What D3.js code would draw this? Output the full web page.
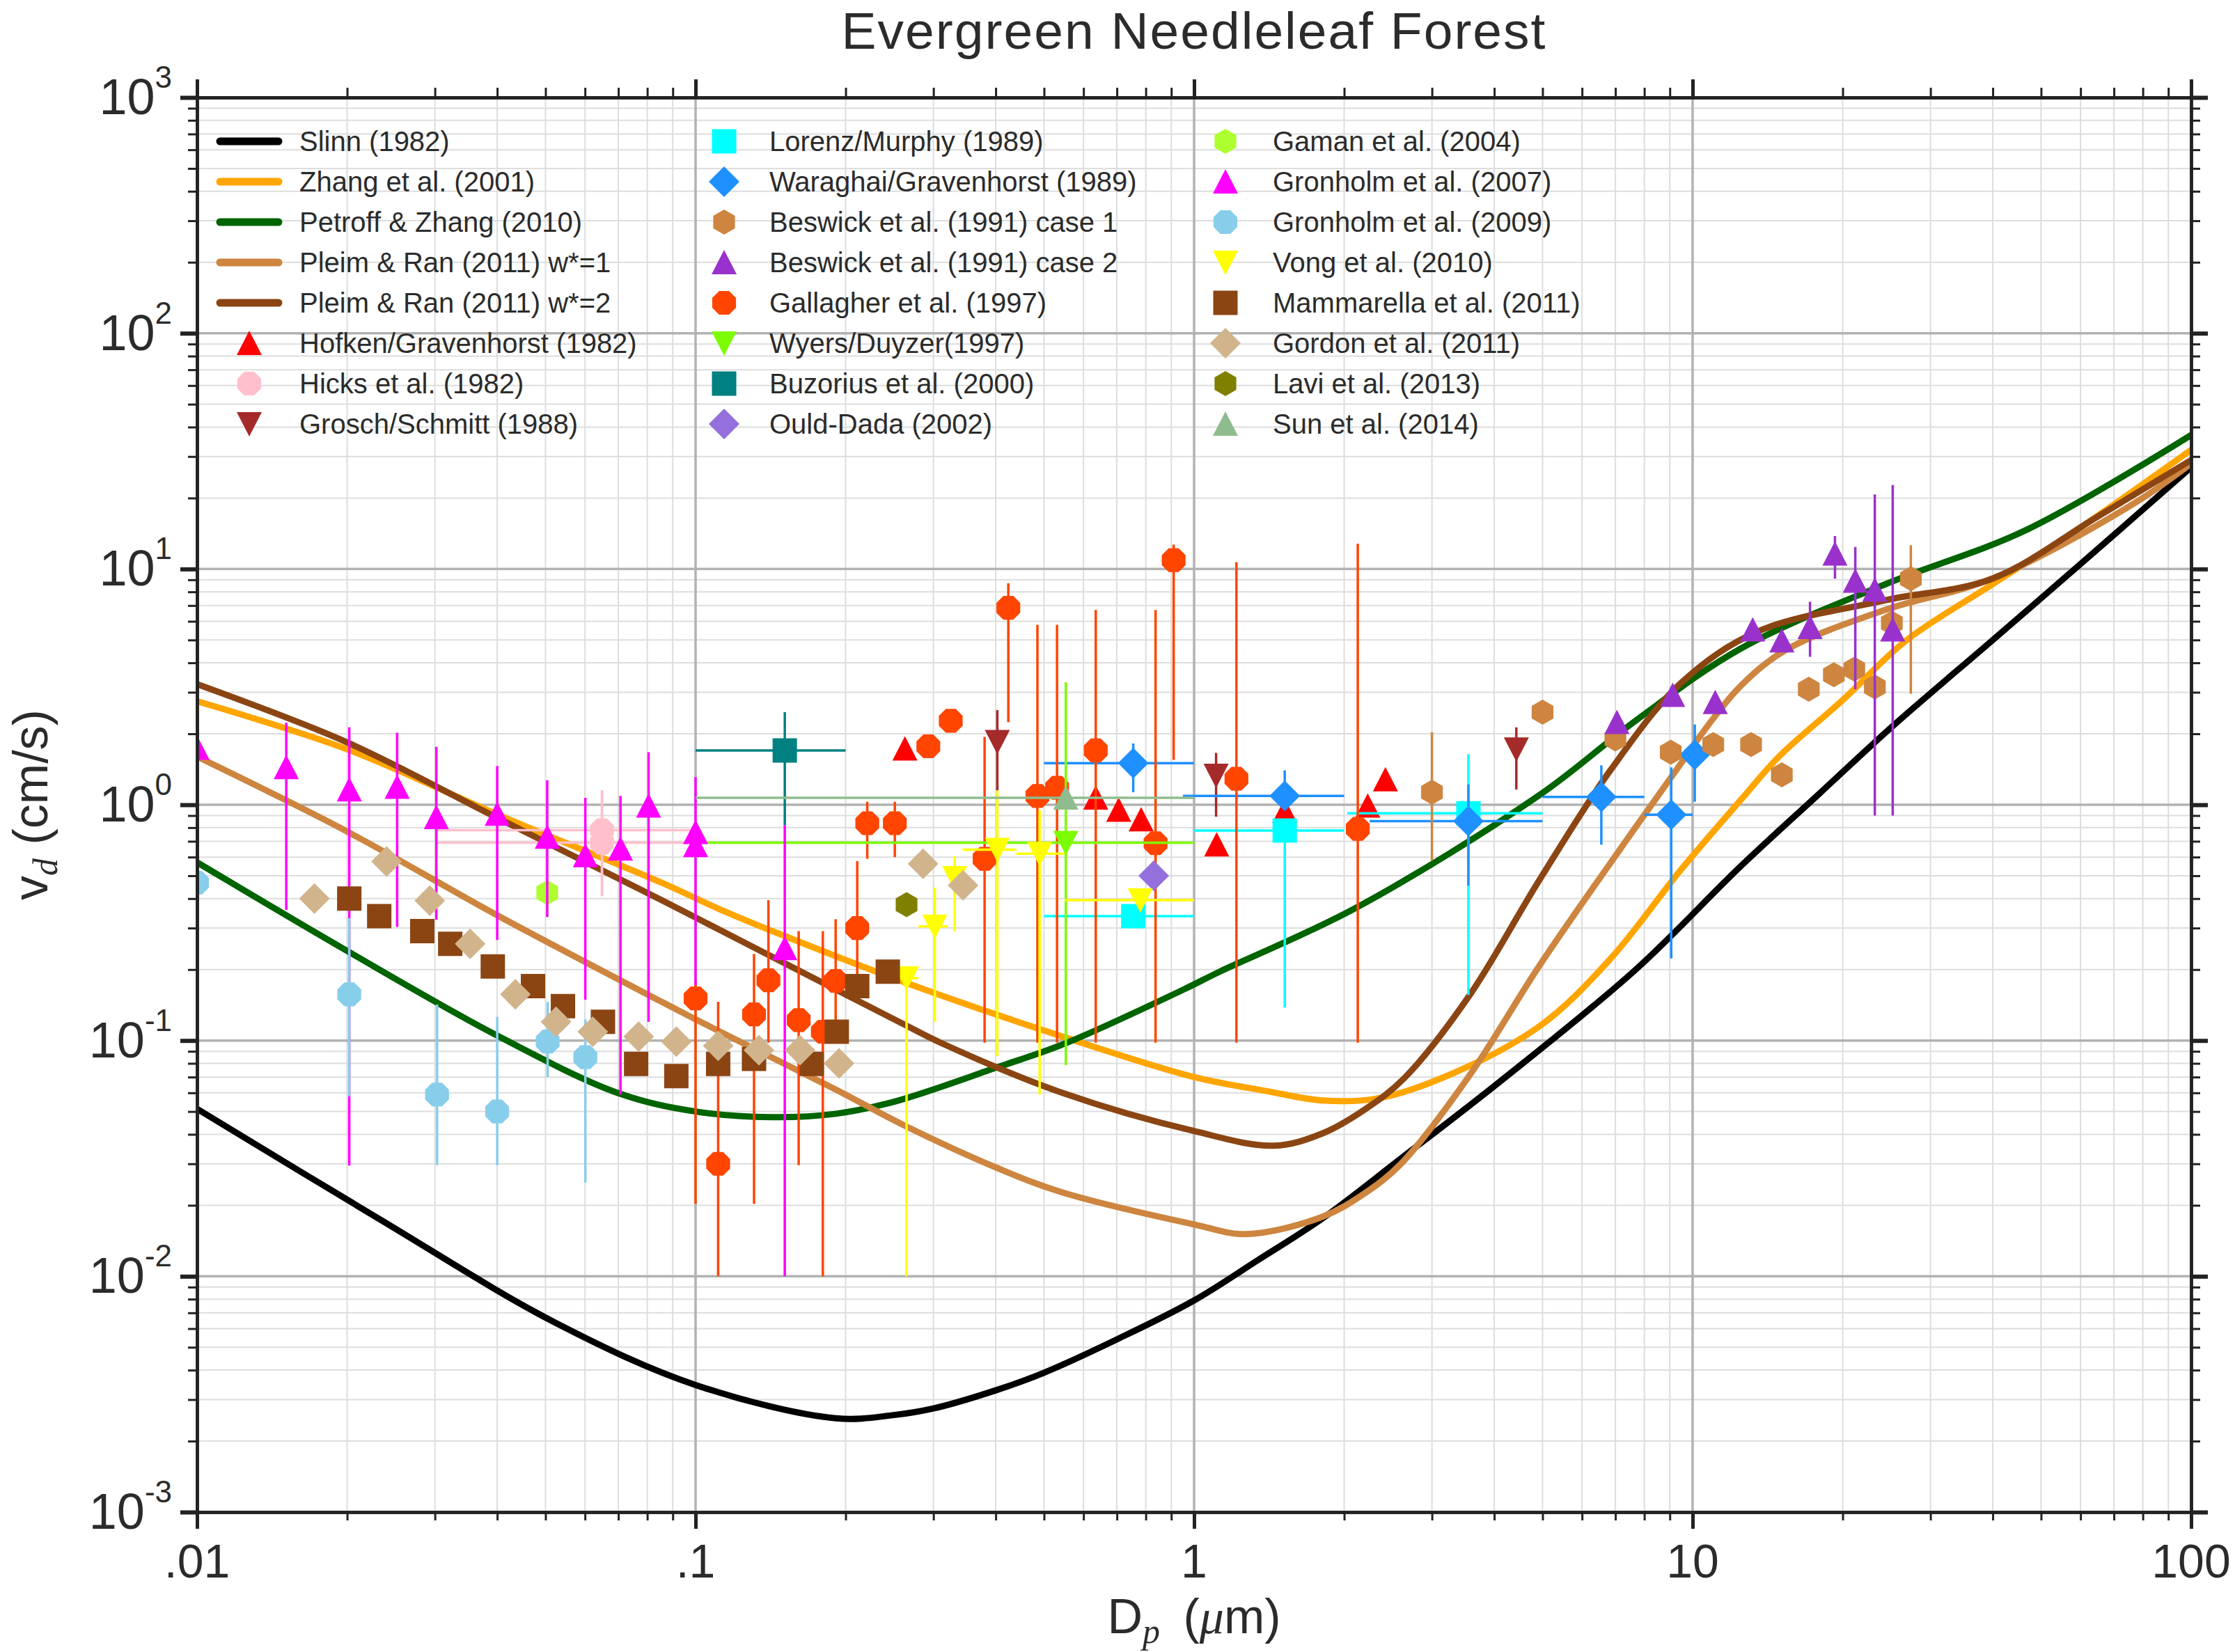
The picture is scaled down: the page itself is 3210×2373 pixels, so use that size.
<!DOCTYPE html>
<html>
<head>
<meta charset="utf-8">
<title>Evergreen Needleleaf Forest</title>
<script src="https://d3js.org/d3.v7.min.js"></script>
<style>
  body { margin: 0; background: #fff; }
  svg { display: block; font-family: "Liberation Sans", Arial, Helvetica, sans-serif; }
  .minor { stroke: #dddddd; stroke-width: 2; }
  .major { stroke: #b2b2b2; stroke-width: 3.5; }
  .lbl { fill: #2b2b2b; }
</style>
</head>
<body>
<svg id="chart" width="3210" height="2373"></svg>
<script>
// ---------- tick labels ----------
const xTickValues = [0.01, 0.1, 1, 10, 100];
const xTickLabels = [".01", ".1", "1", "10", "100"];
const yTickValues = [1e-3, 1e-2, 1e-1, 1, 10, 100, 1000];
const yTickExponents = ["-3", "-2", "-1", "0", "1", "2", "3"];

// ---------- model curves [Dp (um), vd (cm/s)] ----------
const slinn = [[0.01,0.0513],[0.023,0.0177],[0.052,0.0064],[0.1,0.00346],[0.191,0.0025],[0.25,0.00258],
  [0.3,0.00275],[0.403,0.0033],[0.5,0.0039],[0.7,0.0054],[1,0.0079],[1.35,0.0118],[1.81,0.0176],[2.6,0.0316],
  [4.17,0.0687],[7.71,0.201],[12.5,0.55],[18,1.12],[25.1,2.14],[40,5.0],[60,10.5],[100,27]];
const zhang = [[0.01,2.75],[0.02,1.72],[0.04,0.91],[0.0855,0.467],[0.112,0.36],[0.15,0.279],[0.262,0.177],
  [0.544,0.104],[1,0.07],[1.4,0.061],[1.81,0.0557],[2.31,0.0566],[3.16,0.0697],[4.93,0.115],[6.84,0.222],
  [9.46,0.528],[12.5,1.05],[14.9,1.6],[20,2.78],[26.8,4.97],[39.9,8.6],[60,15],[100,32]];
const petroff = [[0.01,0.57],[0.02,0.24],[0.04,0.105],[0.07,0.0598],[0.1,0.05],[0.142,0.0473],[0.191,0.0489],
  [0.25,0.055],[0.403,0.077],[0.55,0.097],[0.955,0.165],[1.12,0.195],[2.1,0.363],[4.93,1.10],[7.7,2.28],
  [12.5,4.6],[24.3,8.6],[46.9,14.7],[100,37]];
const pleim1 = [[0.01,1.6],[0.02,0.77],[0.04,0.34],[0.0855,0.146],[0.112,0.109],[0.191,0.062],[0.262,0.0437],
  [0.403,0.0288],[0.544,0.0227],[1,0.0166],[1.27,0.0151],[1.81,0.0179],[2.2,0.0225],[2.6,0.03],[3.55,0.07],
  [4.93,0.208],[6.84,0.566],[9.46,1.49],[10.7,2.15],[12.5,3.2],[15.4,4.54],[24.3,6.7],[39.9,9.1],[76.9,19],[100,28]];
const pleim2 = [[0.01,3.25],[0.02,1.84],[0.04,0.88],[0.0855,0.394],[0.112,0.294],[0.262,0.117],[0.311,0.0976],
  [0.544,0.06],[1,0.0413],[1.445,0.0358],[1.81,0.0404],[2.2,0.051],[2.63,0.0687],[3.55,0.153],[4.93,0.48],
  [6.84,1.40],[9.5,3.3],[13.5,5.43],[24.3,7.36],[39.9,9.1],[65,16.7],[100,29]];

// ---------- measurements [Dp, vd, vd_low, vd_high, Dp_low, Dp_high] ----------
const hofken = [[0.263,1.73],[0.635,1.07],[0.706,0.95],[0.783,0.865],[1.11,0.677],[1.52,0.94],[2.23,0.99],[2.42,1.28]];
const hicks = [[0.0649,0.78,0.41,1.15,0.0303,0.1],[0.0649,0.69,0.41,1.15,0.0303,0.1]];
const grosch = [[0.403,1.85,1.15,2.52],[1.107,1.33,0.89,1.66],[4.43,1.72,1.16,2.13]];
const lorenz = [[0.755,0.337,null,null,0.5,1.0],[1.52,0.777,0.138,0.85,1.0,2.0],[3.55,0.92,0.156,1.64,2.03,5.0]];
const waraghai = [[0.755,1.50,1.13,1.82,0.5,1.0],[1.52,1.09,0.99,1.40,0.95,2.0],[3.55,0.853,0.454,1.22,2.25,5.0],
  [6.56,1.08,0.677,1.47,5.0,8.0],[9.06,0.907,0.223,1.44,8.0,10.0],[10.1,1.63,1.03,2.19]];
const beswick1 = [[3.0,1.13,0.58,2.03],[5.0,2.47],[7.0,1.9],[9.04,1.67],[11.0,1.8],[13.1,1.8],[15.1,1.34],
  [17.1,3.09],[19.2,3.56],[21.1,3.76],[23.2,3.16],[25.1,5.9],[27.4,9.1,2.96,12.6]];
const beswick2 = [[7.05,2.24],[9.12,2.92],[11.1,2.72],[13.2,5.53],[15.1,4.97],[17.2,5.66,4.24,7.26],
  [19.3,11.6,9.1,13.8],[21.2,8.9,3.09,12.4],[23.2,8.16,0.9,20.7],[25.2,5.53,0.9,22.7]];
const gallagher = [[0.1,0.151,0.0203,0.177],[0.111,0.030,0.01,0.146],[0.131,0.129,0.0203,0.233],[0.14,0.18,0.098,0.394],
  [0.161,0.122,0.0296,0.291],[0.18,0.109,0.01,0.291],[0.191,0.179,0.112,0.327],[0.211,0.30,0.18,0.577],
  [0.221,0.835,0.59,1.03],[0.251,0.835,0.6,1.03],[0.293,1.77],[0.325,2.27],[0.38,0.59,0.098,1.94],
  [0.424,6.84,2.24,8.7],[0.485,1.09,0.098,5.8],[0.531,1.18,0.098,5.8],[0.635,1.70,0.098,6.7],
  [0.837,0.687,0.098,6.7],[0.91,10.9,1.55,12.7],[1.216,1.29,0.098,10.7],[2.13,0.79,0.098,12.8]];
const wyers = [[0.553,0.69,0.0786,3.31,0.1,1.0]];
const buzorius = [[0.151,1.70,0.82,2.47,0.1,0.2]];
const ouldDada = [[0.83,0.50]];
const gaman = [[0.0504,0.424,0.334,0.48]];
const gronholm07 = [[0.01,1.74],[0.0151,1.44,0.358,2.23],[0.0202,1.16,0.0295,2.13],[0.0252,1.19,0.303,2.02],
  [0.0302,0.885,0.325,1.76],[0.040,0.914,0.267,1.46],[0.0504,0.73,0.334,1.27],[0.0601,0.61,0.149,1.07],
  [0.0707,0.65,0.059,1.09],[0.0805,0.99,0.12,1.67],[0.1,0.765,0.172,1.31],[0.1,0.673],[0.151,0.246,0.01,0.82]];
const gronholm09 = [[0.01,0.467],[0.0202,0.157,0.058,0.33],[0.0303,0.059,0.0296,0.142],[0.040,0.05,0.0296,0.126],
  [0.0505,0.099,0.07,0.146],[0.0601,0.085,0.025,0.123]];
const vong = [[0.265,0.184,0.01,0.184,0.25,0.28],[0.302,0.305,0.12,0.445,0.28,0.32],[0.331,0.49,0.291,0.607],
  [0.403,0.645,0.086,1.15,0.343,0.44],[0.49,0.62,0.059,0.95,0.44,0.55],[0.78,0.394,null,null,0.55,1.0]];
const mammarella = [[0.0202,0.40],[0.0232,0.337],[0.0283,0.291],[0.0322,0.257],[0.0392,0.206],[0.0472,0.17],
  [0.0542,0.14],[0.0652,0.12],[0.076,0.0796],[0.0915,0.0707],[0.111,0.0796],[0.131,0.0836],[0.171,0.0796],
  [0.192,0.109],[0.211,0.17],[0.243,0.196]];
const gordon = [[0.0172,0.40],[0.024,0.575],[0.0293,0.392],[0.0353,0.257],[0.0435,0.157],[0.0525,0.12],
  [0.0622,0.109],[0.0769,0.104],[0.0915,0.099],[0.111,0.095],[0.134,0.091],[0.162,0.091],[0.194,0.080],
  [0.286,0.562],[0.344,0.455]];
const lavi = [[0.265,0.377]];
const sun = [[0.553,1.07,null,null,0.1,1.0]];

const models = [
  { name: "Slinn (1982)", color: "#000000", data: slinn },
  { name: "Zhang et al. (2001)", color: "#ffa500", data: zhang },
  { name: "Petroff & Zhang (2010)", color: "#006400", data: petroff },
  { name: "Pleim & Ran (2011) w*=1", color: "#cd853f", data: pleim1 },
  { name: "Pleim & Ran (2011) w*=2", color: "#8b4513", data: pleim2 }
];
const series = [
  { name: "Hofken/Gravenhorst (1982)", color: "#ff0000", shape: "triUp", data: hofken },
  { name: "Hicks et al. (1982)", color: "#ffc0cb", shape: "octagon", data: hicks },
  { name: "Grosch/Schmitt (1988)", color: "#a52a2a", shape: "triDown", data: grosch },
  { name: "Lorenz/Murphy (1989)", color: "#00ffff", shape: "square", data: lorenz },
  { name: "Waraghai/Gravenhorst (1989)", color: "#1e90ff", shape: "diamond", data: waraghai },
  { name: "Beswick et al. (1991) case 1", color: "#cd853f", shape: "hexagon", data: beswick1 },
  { name: "Beswick et al. (1991) case 2", color: "#9932cc", shape: "triUp", data: beswick2 },
  { name: "Gallagher et al. (1997)", color: "#ff4500", shape: "octagon", data: gallagher },
  { name: "Wyers/Duyzer(1997)", color: "#7cfc00", shape: "triDown", data: wyers },
  { name: "Buzorius et al. (2000)", color: "#008080", shape: "square", data: buzorius },
  { name: "Ould-Dada (2002)", color: "#9370db", shape: "diamond", data: ouldDada },
  { name: "Gaman et al. (2004)", color: "#adff2f", shape: "hexagon", data: gaman },
  { name: "Gronholm et al. (2007)", color: "#ff00ff", shape: "triUp", data: gronholm07 },
  { name: "Gronholm et al. (2009)", color: "#87ceeb", shape: "octagon", data: gronholm09 },
  { name: "Vong et al. (2010)", color: "#ffff00", shape: "triDown", data: vong },
  { name: "Mammarella et al. (2011)", color: "#8b4513", shape: "square", data: mammarella },
  { name: "Gordon et al. (2011)", color: "#d2b48c", shape: "diamond", data: gordon },
  { name: "Lavi et al. (2013)", color: "#808000", shape: "hexagon", data: lavi },
  { name: "Sun et al. (2014)", color: "#8fbc8f", shape: "triUp", data: sun }
];

// ---------- layout ----------
const plotL = 283, plotR = 3147, plotT = 140, plotB = 2172;
const x = d3.scaleLog().domain([0.01, 100]).range([plotL, plotR]);
const y = d3.scaleLog().domain([0.001, 1000]).range([plotB, plotT]);
const svg = d3.select("#chart");

const isMajor = v => Math.abs(Math.log10(v) - Math.round(Math.log10(v))) < 1e-9;
const xMinor = x.ticks().filter(v => !isMajor(v));
const yMinor = y.ticks().filter(v => !isMajor(v));

// grid
const grid = svg.append("g");
grid.selectAll(".gx").data(xMinor).join("line").attr("class", "minor")
  .attr("x1", d => x(d)).attr("x2", d => x(d)).attr("y1", plotT).attr("y2", plotB);
grid.selectAll(".gy").data(yMinor).join("line").attr("class", "minor")
  .attr("y1", d => y(d)).attr("y2", d => y(d)).attr("x1", plotL).attr("x2", plotR);
grid.selectAll(".gX").data(xTickValues).join("line").attr("class", "major")
  .attr("x1", d => x(d)).attr("x2", d => x(d)).attr("y1", plotT).attr("y2", plotB);
grid.selectAll(".gY").data(yTickValues).join("line").attr("class", "major")
  .attr("y1", d => y(d)).attr("y2", d => y(d)).attr("x1", plotL).attr("x2", plotR);

// clip
svg.append("clipPath").attr("id", "plotclip").append("rect")
  .attr("x", plotL).attr("y", plotT).attr("width", plotR - plotL).attr("height", plotB - plotT);
const plot = svg.append("g").attr("clip-path", "url(#plotclip)");

// model curves
const line = d3.line().x(d => x(d[0])).y(d => y(d[1])).curve(d3.curveCatmullRom.alpha(0.5));
plot.selectAll(".model").data(models).join("path")
  .attr("d", d => line(d.data)).attr("fill", "none")
  .attr("stroke", d => d.color).attr("stroke-width", 9)
  .attr("stroke-linejoin", "round").attr("stroke-linecap", "round");

// marker shapes
function poly(n, r, rot) {
  return d3.range(n).map(i => {
    const a = rot + i * 2 * Math.PI / n;
    return [(r * Math.cos(a)).toFixed(2), (r * Math.sin(a)).toFixed(2)];
  });
}
function shapePath(shape) {
  switch (shape) {
    case "triUp": return "M0,-18L18,17L-18,17Z";
    case "triDown": return "M0,18L18,-17L-18,-17Z";
    case "square": return "M-17.5,-17.5H17.5V17.5H-17.5Z";
    case "diamond": return "M0,-22L22,0L0,22L-22,0Z";
    case "hexagon": return "M" + poly(6, 18, -Math.PI / 2).join("L") + "Z";
    default: return "M" + poly(8, 18.5, Math.PI / 8).join("L") + "Z";
  }
}

// measurements: error bars then markers, per series
series.forEach(s => {
  const g = plot.append("g");
  g.selectAll(".ey").data(s.data.filter(p => p[2] != null)).join("line")
    .attr("x1", p => x(p[0])).attr("x2", p => x(p[0]))
    .attr("y1", p => y(p[2])).attr("y2", p => y(p[3]))
    .attr("stroke", s.color).attr("stroke-width", 3.5);
  g.selectAll(".ex").data(s.data.filter(p => p[4] != null)).join("line")
    .attr("x1", p => x(p[4])).attr("x2", p => x(p[5]))
    .attr("y1", p => y(p[1])).attr("y2", p => y(p[1]))
    .attr("stroke", s.color).attr("stroke-width", 3.5);
  g.selectAll(".mk").data(s.data).join("path")
    .attr("d", shapePath(s.shape))
    .attr("transform", p => `translate(${x(p[0])},${y(p[1])})`)
    .attr("fill", s.color);
});

// axes (ticks outward on all four sides)
function addAxis(axis, values, size, width, transform) {
  svg.append("g").attr("transform", transform)
    .call(axis.tickValues(values).tickSize(size).tickSizeOuter(0).tickFormat(""))
    .call(g => g.select(".domain").attr("stroke", "#222").attr("stroke-width", 4.5))
    .call(g => g.selectAll(".tick line").attr("stroke", "#222").attr("stroke-width", width));
}
addAxis(d3.axisBottom(x), xMinor, 12, 3, `translate(0,${plotB})`);
addAxis(d3.axisBottom(x), xTickValues, 24, 5, `translate(0,${plotB})`);
addAxis(d3.axisTop(x), xMinor, 14, 3, `translate(0,${plotT})`);
addAxis(d3.axisTop(x), xTickValues, 26, 5, `translate(0,${plotT})`);
addAxis(d3.axisLeft(y), yMinor, 13, 3, `translate(${plotL},0)`);
addAxis(d3.axisLeft(y), yTickValues, 24, 6, `translate(${plotL},0)`);
addAxis(d3.axisRight(y), yMinor, 13, 3, `translate(${plotR},0)`);
addAxis(d3.axisRight(y), yTickValues, 24, 6, `translate(${plotR},0)`);

// tick labels
svg.append("g").selectAll("text").data(xTickValues).join("text")
  .attr("class", "lbl").attr("x", d => x(d)).attr("y", 2266)
  .attr("text-anchor", "middle").attr("font-size", 68)
  .text((d, i) => xTickLabels[i]);
const yl = svg.append("g").selectAll("text").data(yTickValues).join("text")
  .attr("class", "lbl").attr("x", 247).attr("y", d => y(d) + 24).attr("text-anchor", "end");
yl.append("tspan").attr("font-size", 72).text("10");
yl.append("tspan").attr("font-size", 44).attr("dy", -38).text((d, i) => yTickExponents[i]);

// title and axis titles
svg.append("text").attr("class", "lbl").attr("x", (plotL + plotR) / 2).attr("y", 70)
  .attr("text-anchor", "middle").attr("font-size", 75).attr("letter-spacing", 2)
  .text("Evergreen Needleleaf Forest");

const xt = svg.append("text").attr("class", "lbl").attr("x", (plotL + plotR) / 2).attr("y", 2346)
  .attr("text-anchor", "middle").attr("font-size", 70);
xt.append("tspan").text("D");
xt.append("tspan").attr("font-family", "Liberation Serif, serif").attr("font-style", "italic")
  .attr("font-size", 50).attr("dy", 14).text("p");
xt.append("tspan").attr("dy", -14).text("\u2009 (");
xt.append("tspan").attr("font-family", "Liberation Serif, serif").attr("font-style", "italic").text("\u03bc");
xt.append("tspan").text("m)");

const yt = svg.append("text").attr("class", "lbl")
  .attr("transform", `translate(68,${(plotT + plotB) / 2}) rotate(-90)`)
  .attr("text-anchor", "middle").attr("font-size", 70);
yt.append("tspan").text("v");
yt.append("tspan").attr("font-family", "Liberation Serif, serif").attr("font-style", "italic")
  .attr("font-size", 50).attr("dy", 14).text("d");
yt.append("tspan").attr("dy", -14).text(" (cm/s)");

// legend
const rowY = i => 203 + 58 * i;
const legend = svg.append("g");
const col1 = models.map(m => ({ ...m, kind: "line" })).concat(series.slice(0, 3));
const columns = [
  { items: col1, mx: 358, tx: 430 },
  { items: series.slice(3, 11), mx: 1040, tx: 1105 },
  { items: series.slice(11, 19), mx: 1760, tx: 1828 }
];
columns.forEach(c => {
  c.items.forEach((it, i) => {
    if (it.kind === "line") {
      legend.append("line").attr("x1", c.mx - 42).attr("x2", c.mx + 42)
        .attr("y1", rowY(i)).attr("y2", rowY(i))
        .attr("stroke", it.color).attr("stroke-width", 11).attr("stroke-linecap", "round");
    } else {
      legend.append("path").attr("d", shapePath(it.shape))
        .attr("transform", `translate(${c.mx},${rowY(i)})`).attr("fill", it.color);
    }
    legend.append("text").attr("class", "lbl").attr("x", c.tx).attr("y", rowY(i))
      .attr("dy", "0.36em").attr("font-size", 40).text(it.name);
  });
});
</script>
</body>
</html>
